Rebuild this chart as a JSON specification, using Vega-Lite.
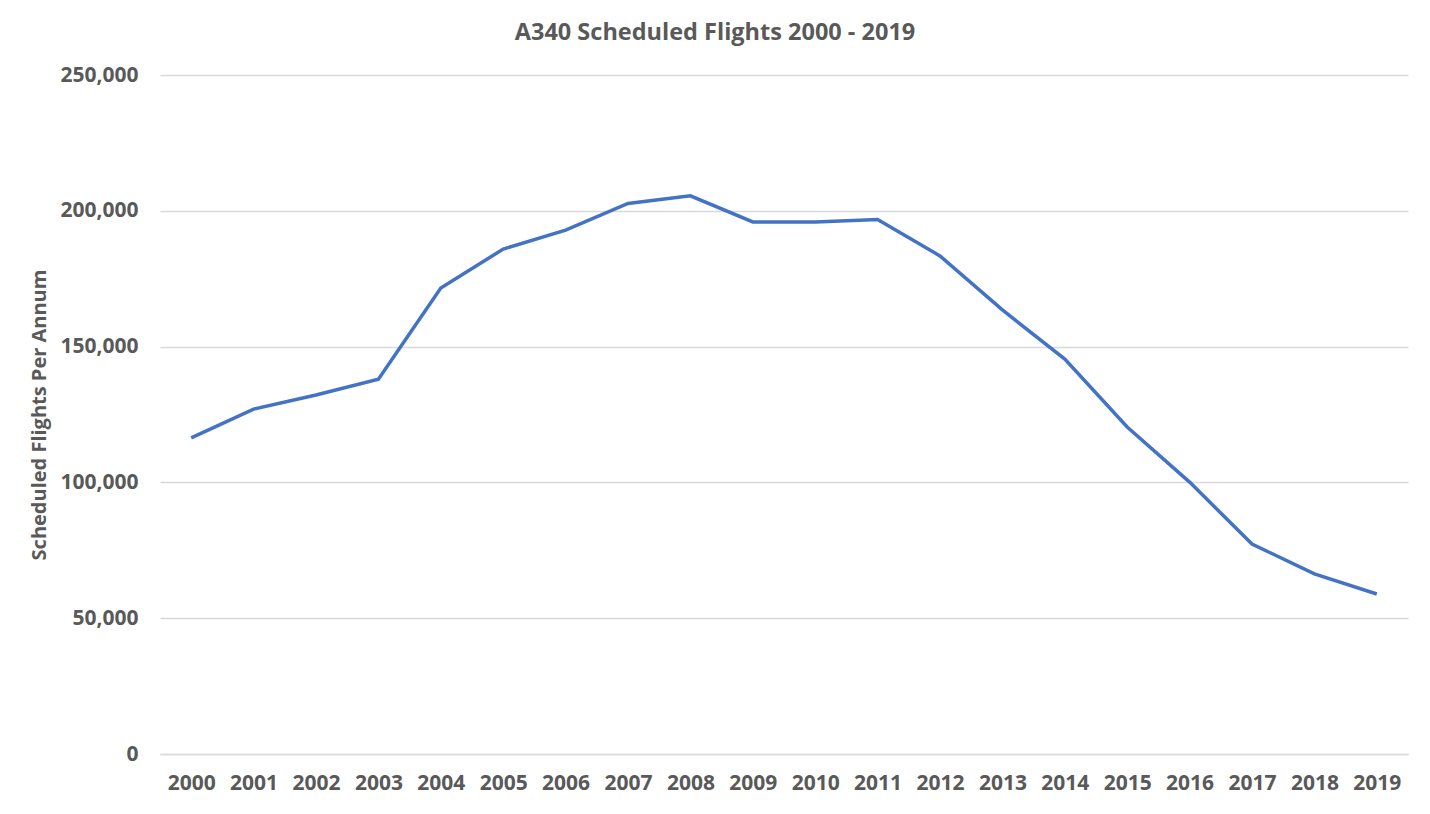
{
  "$schema": "https://vega.github.io/schema/vega-lite/v6.json",
  "autosize": {"type": "none"},
  "padding": {"left": 160, "top": 75, "right": 22, "bottom": 60},
  "width": 1248,
  "height": 679,
  "background": "white",
  "title": {
    "text": "A340 Scheduled Flights 2000 - 2019",
    "font": "Open Sans",
    "fontSize": 23.5,
    "fontWeight": "bold",
    "color": "#595959",
    "anchor": "middle",
    "frame": "group",
    "dx": -69,
    "offset": 20
  },
  "config": {
    "view": {"stroke": null},
    "axis": {
      "labelFont": "Open Sans",
      "labelFontWeight": "bold",
      "labelFontSize": 21,
      "labelColor": "#595959",
      "titleFont": "Open Sans",
      "titleFontWeight": "bold",
      "titleFontSize": 20,
      "titleColor": "#595959",
      "ticks": false
    }
  },
  "data": {
    "values": [
      {"year": "2000", "flights": 116400},
      {"year": "2001", "flights": 127000},
      {"year": "2002", "flights": 132200},
      {"year": "2003", "flights": 138000},
      {"year": "2004", "flights": 171600},
      {"year": "2005", "flights": 185900},
      {"year": "2006", "flights": 192900},
      {"year": "2007", "flights": 202700},
      {"year": "2008", "flights": 205500},
      {"year": "2009", "flights": 195900},
      {"year": "2010", "flights": 195900},
      {"year": "2011", "flights": 196800},
      {"year": "2012", "flights": 183400},
      {"year": "2013", "flights": 163500},
      {"year": "2014", "flights": 145400},
      {"year": "2015", "flights": 120400},
      {"year": "2016", "flights": 100100},
      {"year": "2017", "flights": 77300},
      {"year": "2018", "flights": 66300},
      {"year": "2019", "flights": 58900}
    ]
  },
  "mark": {"type": "line", "color": "#4472C4", "strokeWidth": 3.5},
  "encoding": {
    "x": {
      "field": "year",
      "type": "ordinal",
      "scale": {"type": "point", "padding": 0.5},
      "axis": {
        "title": null,
        "labelAngle": 0,
        "labelPadding": 18,
        "domain": true,
        "domainColor": "#d9d9d9",
        "domainWidth": 1.5,
        "grid": false
      }
    },
    "y": {
      "field": "flights",
      "type": "quantitative",
      "scale": {"domain": [0, 250000], "nice": false},
      "axis": {
        "title": "Scheduled Flights Per Annum",
        "values": [0, 50000, 100000, 150000, 200000, 250000],
        "format": ",d",
        "domain": false,
        "grid": true,
        "gridColor": "#d9d9d9",
        "gridWidth": 1.5,
        "labelPadding": 22,
        "titlePadding": 10
      }
    }
  }
}
